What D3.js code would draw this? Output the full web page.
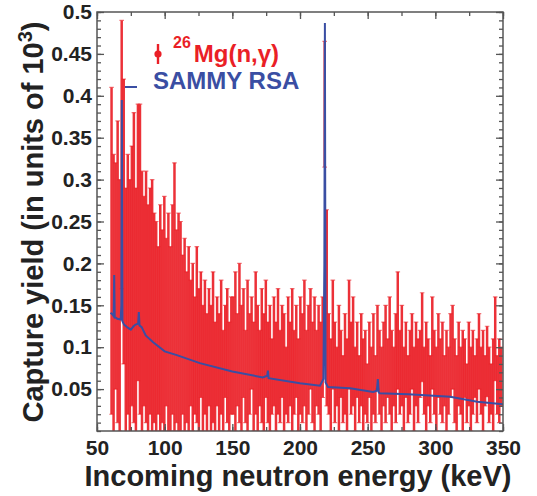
<!DOCTYPE html>
<meta charset="utf-8">
<style>
body { margin: 0; background: #fff; }
svg { font-family: "Liberation Sans", Arial, Helvetica, sans-serif; font-weight: bold; }
.axis text { font-size: 21px; fill: #222; font-weight: bold; }
.axis line { stroke: #555; stroke-width: 1.3; }
.axis path { display: none; }
.title { font-size: 29px; fill: #222; }
</style>
<svg width="537" height="496"></svg>
<script src="https://d3js.org/d3.v7.min.js"></script>
<script>

// 26Mg(n,g) capture yield, 1.5 keV bins starting at 60 keV
var binStart = 60,
    binWidth = 1.5;

var yieldVal = [
  .215,.16,.185,.19,.15,.33,.25,.14,.175,.14,
  .185,.195,.13,.225,.205,.155,.155,.16,.135,.155,
  .15,.135,.125,.12,.135,.125,.14,.13,.13,.11,
  .145,.16,.125,.13,.125,.115,.115,.10,.11,.105,
  .10,.09,.115,.085,.115,.075,.10,.07,.10,.075,
  .10,.065,.095,.07,.10,.06,.095,.09,.065,.09,
  .09,.095,.085,.105,.075,.105,.065,.09,.08,.105,
  .065,.105,.075,.075,.09,.07,.11,.07,.075,.065,
  .095,.065,.095,.065,.095,.07,.06,.085,.08,.085,
  .07,.095,.055,.09,.075,.105,.06,.085,.11,.07,
  .08,.075,.085,.065,.10,.39,.147,.08,.055,.115,
  .07,.065,.075,.08,.05,.08,.055,.115,.075,.095,
  .05,.085,.05,.085,.055,.07,.045,.085,.05,.08,
  .05,.10,.07,.05,.08,.08,.075,.09,.06,.065,
  .075,.12,.07,.09,.05,.085,.05,.07,.095,.05,
  .08,.06,.08,.112,.06,.065,.07,.05,.105,.07,
  .05,.09,.065,.07,.06,.06,.06,.09,.10,.06,
  .045,.08,.06,.06,.075,.045,.08,.05,.07,.065,
  .06,.095,.06,.06,.06,.083,.055,.05,.055,.11,
  .055,.06,.065
];

var yieldErr = [
  .195,.17,.135,.18,.15,.16,.17,.15,.155,.16,
  .155,.185,.16,.165,.185,.155,.125,.15,.135,.135,
  .15,.125,.125,.10,.135,.115,.14,.10,.13,.11,
  .125,.16,.115,.13,.125,.095,.115,.09,.11,.075,
  .10,.07,.105,.085,.075,.075,.08,.07,.07,.075,
  .09,.065,.065,.07,.08,.06,.055,.08,.065,.07,
  .07,.095,.055,.095,.075,.065,.055,.09,.06,.055,
  .065,.085,.075,.045,.08,.07,.07,.06,.075,.045,
  .065,.065,.075,.055,.055,.07,.04,.075,.05,.085,
  .05,.055,.055,.07,.065,.075,.06,.065,.06,.06,
  .08,.045,.065,.065,.06,.075,.117,.06,.055,.065,
  .06,.035,.075,.04,.04,.06,.055,.065,.055,.065,
  .05,.045,.04,.055,.055,.05,.035,.045,.05,.06,
  .04,.05,.05,.05,.05,.07,.035,.07,.06,.035,
  .065,.07,.05,.06,.05,.045,.04,.05,.045,.05,
  .05,.05,.04,.053,.04,.065,.04,.04,.055,.05,
  .05,.05,.045,.06,.03,.06,.04,.05,.05,.05,
  .045,.05,.04,.06,.035,.035,.05,.05,.05,.025,
  .05,.045,.04,.06,.03,.042,.045,.03,.055,.05,
  .035,.05,.035
];

// SAMMY RSA fit
var sammyE = [60, 61.5, 62.3, 62.7, 63.1, 65, 67.5, 68.0, 68.35, 68.8, 70, 73, 75, 77, 78.5, 80.4, 80.9, 81.4, 83, 86,
  91.5, 100, 109, 126, 150, 172.5, 175.8, 176.3, 176.8, 200, 214.8, 217.3, 218.0, 218.4, 218.9, 220.7,
  237, 254, 256.8, 257.5, 258.2, 259, 280, 311, 331, 350];
var sammyY = [.141, .139, .137, .186, .136, .134, .133, .15, .395, .131, .127, .123, .121, .125, .127, .128, .142, .126, .124, .114,
  .106, .095, .0905, .081, .071, .064, .066, .072, .063, .057, .054, .062, .20, .487, .058, .0525,
  .051, .0465, .048, .062, .046, .045, .044, .041, .035, .032];

var xTicks = [50, 100, 150, 200, 250, 300, 350],
    yTicks = [0.05, 0.1, 0.15, 0.2, 0.25, 0.3, 0.35, 0.4, 0.45, 0.5];

var svg = d3.select("svg"),
    padL = 97, padR = 503, padT = 12, padB = 431;

var x = d3.scaleLinear().domain([50, 350]).range([padL, padR]),
    y = d3.scaleLinear().domain([0, 0.5]).range([padB, padT]);

var red = "#ea1f27", blue = "#3a4ea3";

svg.append("clipPath").attr("id", "plot")
  .append("rect").attr("x", padL).attr("y", padT).attr("width", padR - padL).attr("height", padB - padT);

var bins = yieldVal.map(function(v, i) {
  return {e: binStart + binWidth * (i + 0.5), v: v, err: yieldErr[i]};
});

var data = svg.append("g").attr("clip-path", "url(#plot)")
    .attr("stroke", red).attr("stroke-opacity", 0.92);

data.selectAll("line.bar")
  .data(bins)
  .enter().append("line")
    .attr("class", "bar")
    .attr("stroke-width", 2.5)
    .attr("x1", function(d) { return x(d.e); })
    .attr("x2", function(d) { return x(d.e); })
    .attr("y1", function(d) { return y(d.v - d.err); })
    .attr("y2", function(d) { return y(d.v + d.err); });

data.selectAll("path.cap")
  .data(bins)
  .enter().append("path")
    .attr("class", "cap")
    .attr("stroke-width", 1.2)
    .attr("stroke-opacity", 0.6)
    .attr("d", function(d) {
      var cx = x(d.e);
      return "M" + (cx - 2.3) + "," + y(d.v + d.err) + "H" + (cx + 2.3) +
             "M" + (cx - 2.3) + "," + y(d.v - d.err) + "H" + (cx + 2.3);
    });

var line = d3.line()
    .x(function(d) { return x(d[0]); })
    .y(function(d) { return y(d[1]); });

svg.append("path")
    .datum(d3.zip(sammyE, sammyY))
    .attr("clip-path", "url(#plot)")
    .attr("fill", "none")
    .attr("stroke", blue)
    .attr("stroke-width", 2)
    .attr("d", line);

// axes, ticks pointing inward on all four sides
function minor(step, dom) { return d3.range(dom[0], dom[1] + step / 2, step); }

svg.append("g").attr("class", "axis")
    .attr("transform", "translate(0," + padB + ")")
    .call(d3.axisBottom(x).tickValues(xTicks).tickSize(-7).tickPadding(9).tickFormat(d3.format("d")));
svg.append("g").attr("class", "axis")
    .attr("transform", "translate(0," + padB + ")")
    .call(d3.axisBottom(x).tickValues(minor(25, [50, 350])).tickSize(-4).tickFormat(""));
svg.append("g").attr("class", "axis")
    .attr("transform", "translate(0," + padT + ")")
    .call(d3.axisTop(x).tickValues(xTicks).tickSize(-7).tickFormat(""));
svg.append("g").attr("class", "axis")
    .attr("transform", "translate(0," + padT + ")")
    .call(d3.axisTop(x).tickValues(minor(25, [50, 350])).tickSize(-4).tickFormat(""));

svg.append("g").attr("class", "axis")
    .attr("transform", "translate(" + padL + ",0)")
    .call(d3.axisLeft(y).tickValues(yTicks).tickSize(-7).tickPadding(5).tickFormat(function(d) { return String(+d.toFixed(2)); }));
svg.append("g").attr("class", "axis")
    .attr("transform", "translate(" + padL + ",0)")
    .call(d3.axisLeft(y).tickValues(minor(0.01, [0, 0.5])).tickSize(-4).tickFormat(""));
svg.append("g").attr("class", "axis")
    .attr("transform", "translate(" + padR + ",0)")
    .call(d3.axisRight(y).tickValues(yTicks).tickSize(-7).tickFormat(""));
svg.append("g").attr("class", "axis")
    .attr("transform", "translate(" + padR + ",0)")
    .call(d3.axisRight(y).tickValues(minor(0.01, [0, 0.5])).tickSize(-4).tickFormat(""));

svg.append("rect")
    .attr("x", padL).attr("y", padT)
    .attr("width", padR - padL).attr("height", padB - padT)
    .attr("fill", "none").attr("stroke", "#555").attr("stroke-width", 1.5);

// titles
svg.append("text").attr("class", "title")
    .attr("x", 298).attr("y", 486)
    .attr("text-anchor", "middle")
    .text("Incoming neutron energy (keV)");

var yt = svg.append("text").attr("class", "title")
    .attr("transform", "translate(43,222) rotate(-90)")
    .attr("text-anchor", "middle");
yt.append("tspan").text("Capture yield (in units of 10");
yt.append("tspan").attr("dy", -11).attr("font-size", 20).text("3");
yt.append("tspan").attr("dy", 11).text(")");

// legend
var leg = svg.append("g");
leg.append("line").attr("x1", 158).attr("x2", 158).attr("y1", 44).attr("y2", 64)
    .attr("stroke", red).attr("stroke-width", 2.4);
leg.append("circle").attr("cx", 158).attr("cy", 54).attr("r", 3.6).attr("fill", red);
var lt = leg.append("text").attr("x", 173).attr("y", 62).attr("fill", red).attr("font-size", 24);
lt.append("tspan").attr("font-size", 16).attr("dy", -14).text("26");
lt.append("tspan").attr("dy", 14).attr("dx", 3).text("Mg(n,γ)");

leg.append("line").attr("x1", 125).attr("x2", 137).attr("y1", 87).attr("y2", 87)
    .attr("stroke", blue).attr("stroke-width", 2);
leg.append("text").attr("x", 153).attr("y", 89).attr("fill", blue).attr("font-size", 24)
    .text("SAMMY RSA");

</script>
